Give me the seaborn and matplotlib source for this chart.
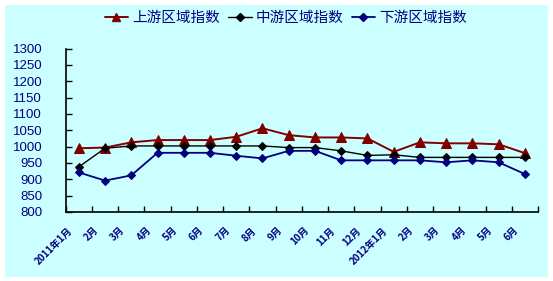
import matplotlib
matplotlib.use("Agg")
import matplotlib.pyplot as plt
import seaborn as sns
import pandas as pd
from matplotlib.transforms import ScaledTranslation
from matplotlib.patches import Rectangle
from matplotlib.lines import Line2D

months = ["2011年1月", "2月", "3月", "4月", "5月", "6月", "7月", "8月", "9月",
          "10月", "11月", "12月", "2012年1月", "2月", "3月", "4月", "5月", "6月"]
upper = [995, 997, 1013, 1020, 1020, 1020, 1030, 1056, 1035,
         1028, 1028, 1025, 984, 1013, 1010, 1010, 1007, 980]
middle = [938, 995, 1002, 1002, 1002, 1002, 1002, 1002, 997,
          997, 987, 973, 975, 967, 967, 967, 967, 967]
lower = [921, 896, 912, 981, 981, 981, 972, 964, 987,
         987, 958, 958, 958, 958, 952, 958, 952, 916]
series_names = ["上游区域指数", "中游区域指数", "下游区域指数"]
yticks = list(range(800, 1301, 50))

sns.set_theme(style="white")
plt.rcParams['font.family'] = ['Noto Sans CJK SC', 'DejaVu Sans']

navy = "#000080"
bg = "#CCFFFF"

fig = plt.figure(figsize=(5.53, 2.81), dpi=100)
fig.patch.set_facecolor("white")
fig.patches.append(Rectangle((5 / 553, 1 - 277 / 281), 543 / 553, 272 / 281,
                             transform=fig.transFigure, facecolor=bg,
                             edgecolor="none", zorder=-5))
ax = fig.add_axes([65.7 / 553, 1 - 212 / 281, (538 - 65.7) / 553, (212 - 48.5) / 281])
ax.set_facecolor(bg)
ax.set_zorder(2)

idx = list(range(len(months)))
df = pd.DataFrame({
    "x": idx * 3,
    "value": upper + middle + lower,
    "series": [series_names[0]] * len(idx) + [series_names[1]] * len(idx) + [series_names[2]] * len(idx),
})

styles = {
    series_names[0]: dict(color="#800000", marker="^", ms=7, lw=1.4),
    series_names[1]: dict(color="#000000", marker="D", ms=4.5, lw=1.0),
    series_names[2]: dict(color=navy, marker="D", ms=4.5, lw=1.3),
}
for name in series_names:
    st = styles[name]
    sns.lineplot(data=df[df["series"] == name], x="x", y="value", ax=ax,
                 color=st["color"], marker=st["marker"], markersize=st["ms"],
                 linewidth=st["lw"], markeredgecolor=st["color"], legend=False)

ax.set_xlim(-0.5, len(months) - 0.5)
ax.set_ylim(800, 1300)
ax.set_yticks(yticks)
ax.set_yticklabels([str(v) for v in yticks], family=['Liberation Sans'], fontsize=9.5, color=navy)
ax.set_xticks(idx)
ax.set_xticklabels(months, rotation=45, ha="right", va="center", rotation_mode="anchor",
                   fontsize=7, fontweight="bold", color=navy)
ax.set_xticks([i - 0.5 for i in range(len(months) + 1)], minor=True)
ax.tick_params(axis="x", which="major", length=0, pad=12)
ax.tick_params(axis="x", which="minor", direction="in", length=4, width=1, color="black", bottom=True)
ax.tick_params(axis="y", direction="in", length=4, width=1, color="black", left=True, pad=17)
for lab in ax.get_xticklabels():
    lab.set_transform(lab.get_transform() + ScaledTranslation(-8 / 100, 0, fig.dpi_scale_trans))
ax.set_xlabel("")
ax.set_ylabel("")
for s in ["top", "right"]:
    ax.spines[s].set_visible(False)
for s in ["left", "bottom"]:
    ax.spines[s].set_color("black")
    ax.spines[s].set_linewidth(1.2)

handles = [Line2D([], [], color=styles[n]["color"], marker=styles[n]["marker"],
                  markersize=styles[n]["ms"] * 0.8, linewidth=styles[n]["lw"]) for n in series_names]
leg = fig.legend(handles, series_names, loc="center", bbox_to_anchor=(286 / 553, 1 - 18 / 281),
                 ncol=3, frameon=False, fontsize=10.5, handlelength=1.6, handletextpad=0.3,
                 columnspacing=0.55, borderpad=0, borderaxespad=0)
for t in leg.get_texts():
    t.set_color(navy)

fig.savefig("out.png", dpi=100, facecolor=fig.get_facecolor())
